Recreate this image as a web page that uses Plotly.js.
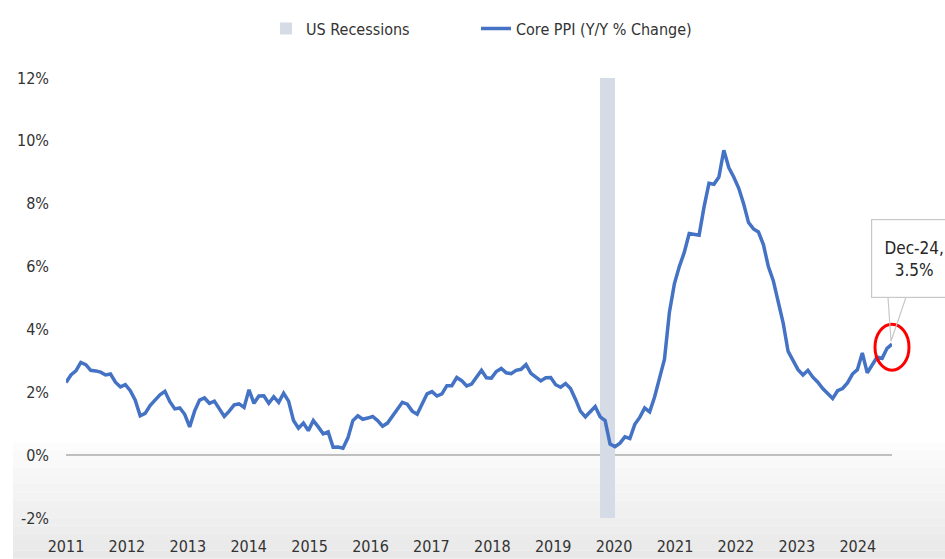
<!DOCTYPE html>
<html>
<head>
<meta charset="utf-8">
<script src="https://cdn.plot.ly/plotly-3.0.1.min.js"></script>
<style>
  html, body { margin: 0; padding: 0; background: #ffffff; }
  #chart { width: 945px; height: 559px; }
</style>
</head>
<body>
<div id="chart"></div>
<script>
// ---- Data ----
const startYear = 2011;   // first month of the series: Jan 2011
const corePPI = [
  2.31, 2.55, 2.68, 2.95, 2.88, 2.70, 2.68, 2.64, 2.55, 2.58, 2.32, 2.17,
  2.24, 2.05, 1.75, 1.25, 1.33, 1.58, 1.75, 1.92, 2.03, 1.70, 1.47, 1.50,
  1.30, 0.90, 1.40, 1.75, 1.82, 1.65, 1.72, 1.45, 1.23, 1.40, 1.60, 1.63,
  1.52, 2.08, 1.65, 1.88, 1.89, 1.65, 1.86, 1.68, 1.97, 1.72, 1.10, 0.86,
  1.02, 0.78, 1.10, 0.90, 0.68, 0.74, 0.25, 0.26, 0.22, 0.55, 1.10, 1.25,
  1.14, 1.18, 1.23, 1.10, 0.92, 1.02, 1.25, 1.48, 1.68, 1.62, 1.40, 1.30,
  1.63, 1.95, 2.02, 1.88, 1.95, 2.21, 2.21, 2.47, 2.37, 2.20, 2.26, 2.50,
  2.70, 2.46, 2.45, 2.66, 2.76, 2.62, 2.59, 2.70, 2.73, 2.88, 2.60, 2.48,
  2.36, 2.46, 2.47, 2.24, 2.16, 2.28, 2.12, 1.78, 1.40, 1.22, 1.40, 1.55,
  1.22, 1.10, 0.35, 0.27, 0.38, 0.58, 0.53, 0.98, 1.20, 1.50, 1.38, 1.85,
  2.45, 3.05, 4.55, 5.45, 6.00, 6.45, 7.05, 7.03, 7.00, 7.90, 8.65, 8.62,
  8.85, 9.70, 9.15, 8.85, 8.50, 8.00, 7.40, 7.20, 7.10, 6.70, 6.00, 5.55,
  4.85, 4.20, 3.30, 3.02, 2.72, 2.55, 2.70, 2.48, 2.32, 2.12, 1.95, 1.80,
  2.05, 2.12, 2.30, 2.58, 2.72, 3.25, 2.62, 2.85, 3.12, 3.08, 3.40, 3.53
];
const recessionStart = ['2020-02'];
const recessionEnd   = ['2020-04'];
const xTickLabels = ['2011','2012','2013','2014','2015','2016','2017','2018','2019','2020','2021','2022','2023','2024'];
const yTickValues = [-2, 0, 2, 4, 6, 8, 10, 12];
const calloutText = 'Dec-24,<br>3.5%';

// ---- Build ----
const monthIdx = ym => { const [y, m] = ym.split('-').map(Number); return (y - startYear) * 12 + (m - 1); };
const xIdx = corePPI.map((_, i) => i);
const lastI = corePPI.length - 1;
const lastV = corePPI[lastI];
const labelStep = 12.313;            // spacing of year labels as drawn (in months)
const tickVals = xTickLabels.map((_, k) => k * labelStep);

const yMin = -2, yMax = 12;
const recX = recessionStart.map((s, k) => (monthIdx(s) + monthIdx(recessionEnd[k])) / 2 - 0.5);
const recW = recessionStart.map((s, k) => monthIdx(recessionEnd[k]) - monthIdx(s) + 1);

const FONT = '"DejaVu Sans Condensed", "DejaVu Sans", sans-serif';
const TXT = '#333333';

const traces = [
  {
    type: 'bar', name: 'US Recessions', legend: 'legend',
    x: recX, y: recX.map(() => yMax - yMin), base: recX.map(() => yMin), width: recW,
    marker: { color: '#D6DCE5', line: { width: 0 } },
    hoverinfo: 'skip'
  },
  {
    type: 'scatter', mode: 'lines', name: 'Core PPI (Y/Y % Change)', legend: 'legend2',
    x: xIdx, y: corePPI,
    line: { color: '#4472C4', width: 3.5 }
  }
];

// paper-coordinate helpers (plot area is 66..892 px wide, 74..518 px tall)
const toPaperY = py => (518 - py) / 444;
const toPaperX = px => (px - 66) / 826;
const lastPX = lastI / lastI;                      // last point, x in paper units
const lastPY = (lastV - yMin) / (yMax - yMin);     // last point, y in paper units

// soft grey gradient at the bottom of the picture
const shapes = [];
const bandTop = 442, bandBot = 559, nb = 14;
for (let b = 0; b < nb; b++) {
  const t = b / (nb - 1);
  const c = Math.round(252 - t * 20);
  shapes.push({
    type: 'rect', xref: 'paper', yref: 'paper', layer: 'below',
    x0: toPaperX(13), x1: toPaperX(945),
    y0: toPaperY(bandTop + (bandBot - bandTop) * (b + 1) / nb),
    y1: toPaperY(bandTop + (bandBot - bandTop) * b / nb),
    fillcolor: `rgb(${c},${c},${c})`, line: { width: 0 }
  });
}
// red circle around the last point
shapes.push({
  type: 'circle', xref: 'paper', yref: 'paper', xsizemode: 'pixel', ysizemode: 'pixel',
  xanchor: lastPX, yanchor: lastPY, x0: -17, x1: 17, y0: -26, y1: 20,
  line: { color: '#FF0000', width: 3 }, fillcolor: 'rgba(0,0,0,0)'
});
// callout wedge
shapes.push({
  type: 'path', xref: 'paper', yref: 'paper', xsizemode: 'pixel', ysizemode: 'pixel',
  xanchor: lastPX, yanchor: lastPY,
  path: 'M -4,47 L -1,3 L 14,47',
  line: { color: '#C8C8C8', width: 1.2 }
});

const legendCommon = {
  orientation: 'h', y: 1.1125, yanchor: 'middle', xanchor: 'left',
  font: { family: FONT, size: 16, color: TXT }, bgcolor: 'rgba(0,0,0,0)'
};

const layout = {
  width: 945, height: 559,
  margin: { l: 66, r: 53, t: 74, b: 41 },
  paper_bgcolor: '#ffffff', plot_bgcolor: 'rgba(0,0,0,0)',
  font: { family: FONT, size: 16, color: TXT },
  showlegend: true,
  legend: Object.assign({}, legendCommon, { x: toPaperX(266) }),
  legend2: Object.assign({}, legendCommon, { x: toPaperX(476) }),
  xaxis: {
    range: [0, lastI], showgrid: false, zeroline: false, showline: false,
    tickmode: 'array', tickvals: tickVals, ticktext: xTickLabels,
    ticks: '', ticklabelstandoff: 17, fixedrange: true,
    tickfont: { family: FONT, size: 16, color: TXT }
  },
  yaxis: {
    range: [yMin, yMax], showgrid: false, showline: false,
    zeroline: true, zerolinecolor: '#BFBFBF', zerolinewidth: 1.5,
    tickmode: 'array', tickvals: yTickValues, ticktext: yTickValues.map(v => v + '%'),
    ticks: '', ticklabelstandoff: 16, fixedrange: true,
    tickfont: { family: FONT, size: 16, color: TXT }
  },
  bargap: 0,
  shapes: shapes,
  annotations: [{
    x: lastPX, y: lastPY, xref: 'paper', yref: 'paper', showarrow: false,
    xanchor: 'center', yanchor: 'middle',
    text: calloutText, xshift: 22, yshift: 86,
    font: { family: FONT, size: 17, color: '#262626' },
    bgcolor: '#ffffff', bordercolor: '#C8C8C8', borderwidth: 1.2, borderpad: 12,
    width: 60, height: 53, align: 'center'
  }]
};

Plotly.newPlot('chart', traces, layout, { displayModeBar: false, staticPlot: true });
</script>
</body>
</html>
